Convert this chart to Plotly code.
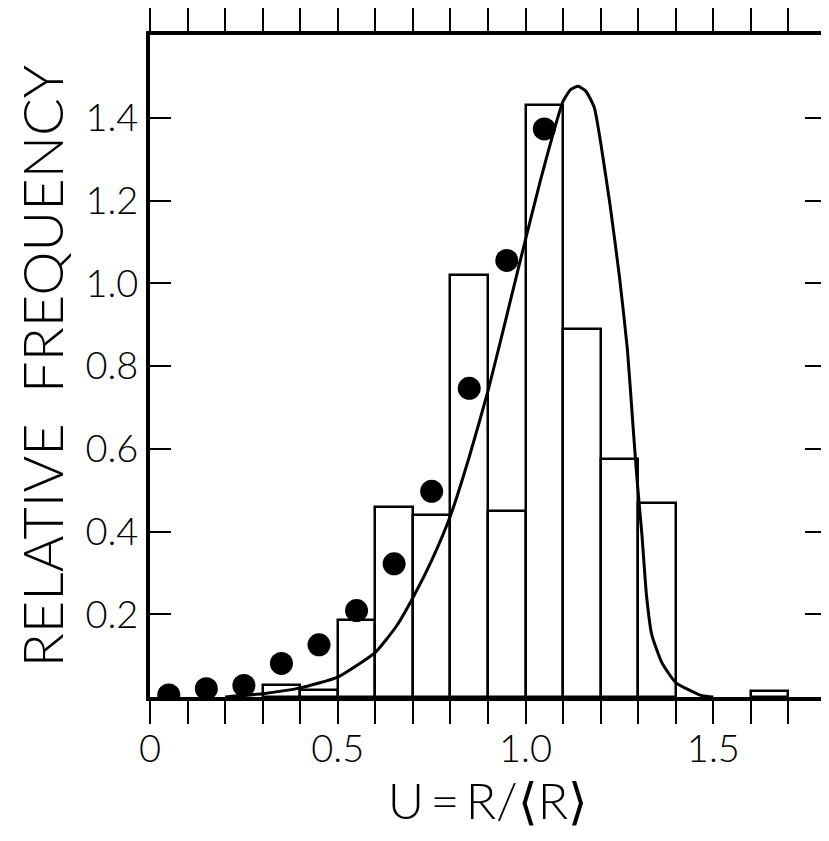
import plotly.graph_objects as go

# Histogram bins (left edge) and relative frequencies
bin_left = [0.3, 0.4, 0.5, 0.6, 0.7, 0.8, 0.9, 1.0, 1.1, 1.2, 1.3, 1.6]
bin_height = [0.03, 0.017, 0.185, 0.46, 0.44, 1.02, 0.45, 1.43, 0.89, 0.575, 0.47, 0.015]
bin_width = 0.1

# Filled circles
dot_x = [0.05, 0.15, 0.25, 0.35, 0.45, 0.55, 0.65, 0.75, 0.85, 0.95, 1.05]
dot_y = [0.005, 0.02, 0.028, 0.081, 0.126, 0.209, 0.322, 0.497, 0.746, 1.055, 1.373]

# Smooth curve, points
curve_x = [0.20, 0.30, 0.40, 0.50, 0.60, 0.656, 0.70, 0.75, 0.80, 0.85, 0.90, 0.94, 0.99,
           1.04, 1.076, 1.10, 1.12, 1.14, 1.16, 1.183, 1.20, 1.225, 1.25, 1.271, 1.285, 1.296,
           1.31, 1.322, 1.336, 1.363, 1.40, 1.47, 1.50]
curve_y = [0.0, 0.008, 0.022, 0.048, 0.108, 0.171, 0.24, 0.33, 0.438, 0.58, 0.74, 0.885, 1.07,
           1.25, 1.37, 1.44, 1.468, 1.476, 1.465, 1.425, 1.34, 1.189, 1.016, 0.842, 0.669, 0.535,
           0.39, 0.246, 0.151, 0.083, 0.035, 0.003, 0.0]

x_tickvals = [round(i * 0.1, 1) for i in range(19)]
x_ticktext = {0.0: "0", 0.5: "0.5", 1.0: "1.0", 1.5: "1.5"}
y_tickvals = [0.2, 0.4, 0.6, 0.8, 1.0, 1.2, 1.4]
y_ticktext = ["0.2", "0.4", "0.6", "0.8", "1.0", "1.2", "1.4"]

FONT = "Lato, 'DejaVu Sans', sans-serif"

fig = go.Figure()
fig.add_trace(go.Bar(
    x=[b + bin_width / 2 for b in bin_left], y=bin_height, width=bin_width,
    marker=dict(color="white", line=dict(color="black", width=2.5)),
    showlegend=False,
))
fig.add_trace(go.Scatter(
    x=curve_x, y=curve_y, mode="lines",
    line=dict(color="black", width=3, shape="spline", smoothing=0.5),
    showlegend=False,
))
fig.add_trace(go.Scatter(
    x=dot_x, y=dot_y, mode="markers",
    marker=dict(color="black", size=23, line=dict(width=0)),
    showlegend=False,
))

fig.update_layout(
    width=821, height=833,
    margin=dict(l=142, r=3, t=27, b=144),
    paper_bgcolor="white", plot_bgcolor="white",
    font=dict(family=FONT, color="black"),
    bargap=0,
)
fig.update_xaxes(
    range=[0, 1.8], tickvals=x_tickvals,
    ticktext=[x_ticktext.get(v, "") for v in x_tickvals],
    ticks="outside", ticklen=23, tickwidth=2, tickcolor="black",
    showline=True, linewidth=4, linecolor="black", mirror="ticks",
    showgrid=False, zeroline=False, automargin=False,
    ticklabelstandoff=-8,
    tickfont=dict(size=38, family=FONT, weight=300),
    title=dict(text="U\u2009=\u2009R/⟨R⟩", font=dict(size=50, family=FONT, weight=300), standoff=6),
)
fig.update_yaxes(
    range=[0, 1.6], tickvals=y_tickvals, ticktext=y_ticktext,
    ticks="inside", ticklen=21, tickwidth=2, tickcolor="black",
    showline=True, linewidth=4, linecolor="black", mirror="ticks",
    showgrid=False, zeroline=False, automargin=False,
    tickfont=dict(size=38, family=FONT, weight=300),
    title=dict(text="RELATIVE  FREQUENCY", font=dict(size=56, family=FONT, weight=300), standoff=10),
)

fig.write_html("out.html")
